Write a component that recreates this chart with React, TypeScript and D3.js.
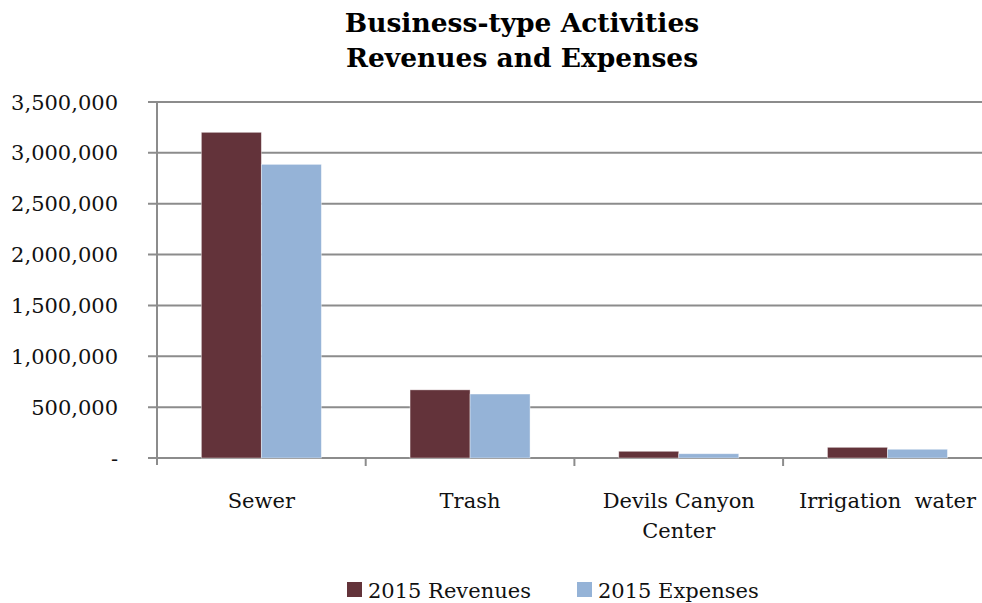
import React from 'react';
import * as d3 from 'd3';

const categories = ['Sewer', 'Trash', 'Devils Canyon Center', 'Irrigation water'];
const categoryLines = [['Sewer'], ['Trash'], ['Devils Canyon', 'Center'], ['Irrigation  water']];
const seriesNames = ['2015 Revenues', '2015 Expenses'];
const revenues = [3202000, 670000, 66000, 105000];
const expenses = [2887000, 629000, 42000, 86000];
const yTicks = [0, 500000, 1000000, 1500000, 2000000, 2500000, 3000000, 3500000];
const colors = ['#63333A', '#95B3D7'];

const W = 982;
const H = 603;
const font = '"DejaVu Serif", serif';

export default function App() {
  const left = 157;
  const top = 102;
  const bottom = 458;
  const bandW = 208.7;

  const y = d3.scaleLinear().domain([0, 3500000]).range([bottom, top]);
  const x = d3.scaleBand<string>().domain(categories).range([left, left + bandW * 4]).padding(0);
  const xs = d3.scaleBand<string>().domain(seriesNames).range([-60, 60]).padding(0);
  const fmt = (v: number) => (v === 0 ? '-' : d3.format(',')(v));
  const series = [revenues, expenses];

  return (
    <svg width={W} height={H} style={{ position: 'absolute', left: 0, top: 0, background: '#fff' }} fontFamily={font}>
      <text x={522} y={32} textAnchor="middle" fontSize={26.5} fontWeight="bold">Business-type Activities</text>
      <text x={522} y={67} textAnchor="middle" fontSize={26.5} fontWeight="bold">Revenues and Expenses</text>

      {yTicks.map(t => (
        <g key={t}>
          <line x1={148} x2={W} y1={y(t)} y2={y(t)} stroke="#8c8c8c" strokeWidth={2} />
          <text x={118} y={y(t)} dy="0.36em" textAnchor="end" fontSize={21} fill="#111">{fmt(t)}</text>
        </g>
      ))}
      <line x1={left} x2={left} y1={top} y2={bottom + 7} stroke="#8c8c8c" strokeWidth={2} />
      {d3.range(1, 5).map(i => (
        <line key={i} x1={left + bandW * i} x2={left + bandW * i} y1={bottom} y2={bottom + 8} stroke="#8c8c8c" strokeWidth={2} />
      ))}

      {categories.map((c, i) => (
        <g key={c} transform={`translate(${(x(c) || 0) + x.bandwidth() / 2},0)`}>
          {series.map((s, j) => (
            <rect
              key={j}
              x={xs(seriesNames[j]) || 0}
              y={y(s[i])}
              width={xs.bandwidth()}
              height={bottom - y(s[i])}
              fill={colors[j]}
              stroke="#fff"
              strokeOpacity={0.5}
              strokeWidth={0.8}
            />
          ))}
          {categoryLines[i].map((ln, k) => (
            <text key={k} x={0} y={508 + k * 30} textAnchor="middle" fontSize={21} fill="#111" style={{ whiteSpace: 'pre' }}>{ln}</text>
          ))}
        </g>
      ))}

      {seriesNames.map((n, j) => (
        <g key={n} transform={`translate(${j === 0 ? 347 : 577},0)`}>
          <rect x={0} y={582} width={15} height={15} fill={colors[j]} />
          <text x={21} y={598} fontSize={21} fill="#111">{n}</text>
        </g>
      ))}
    </svg>
  );
}
